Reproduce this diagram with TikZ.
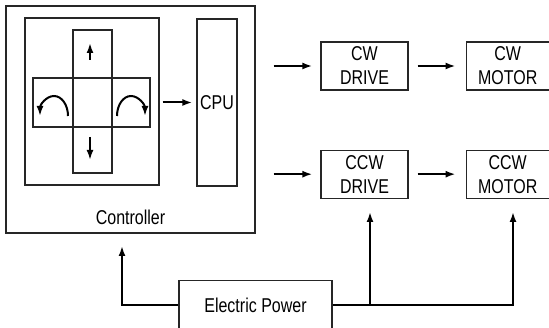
\documentclass[tikz,border=0pt]{standalone}
\usepackage{fontspec}
\setmainfont{Liberation Sans}[FakeStretch=0.8]
\usetikzlibrary{arrows.meta,positioning}

\begin{document}
\begin{tikzpicture}[x=1pt,y=1pt,>={Latex[length=10pt,width=7pt]},
  font=\fontsize{20}{24}\selectfont]
  \tikzstyle{box}=[draw=black!85,line width=1.2pt,inner sep=0pt,align=center,minimum height=48pt]
  \tikzstyle{flow}=[line width=2pt,->]
  \useasboundingbox (0,0) rectangle (549,328);
  % controller and its keypad
  \node[box,minimum width=249pt,minimum height=227pt] (ctrl) at (130.5,208.5) {};
  \node[box,minimum width=134pt,minimum height=167pt] (keypad) at (92,226.5) {};
  \node[box,minimum width=39pt,minimum height=143pt] (vbar) at (92.5,226.5) {};
  \node[box,minimum width=117pt,minimum height=49pt] (hbar) at (91.5,225.5) {};
  \node[box,minimum width=40pt,minimum height=167pt] (cpu) at (217,225.5) {CPU};
  \node (ctrllabel) at (130.5,110.5) {Controller};
  \draw[flow] (90,268) -- (90,285);
  \draw[flow] (90,191) -- (90,168);
  \draw[flow] (68,212) arc[start angle=0,end angle=180,x radius=14pt,y radius=20pt];
  \draw[flow] (117,212) arc[start angle=180,end angle=0,x radius=14pt,y radius=20pt];
  \draw[flow,shorten <=3pt,shorten >=4pt] (keypad.east |- cpu) -- (cpu.west);
  % drives and motors
  \node[box,minimum width=87pt] (cwdrive) at (364.5,262) {CW\\DRIVE};
  \node[box,minimum width=83pt,right=57pt of cwdrive] (cwmotor) {CW\\MOTOR};
  \node[box,minimum width=87pt,below=59pt of cwdrive] (ccwdrive) {CCW\\DRIVE};
  \node[box,minimum width=83pt,right=57pt of ccwdrive] (ccwmotor) {CCW\\MOTOR};
  \draw[flow,shorten <=18pt,shorten >=8pt] (ctrl.east |- cwdrive) -- (cwdrive.west);
  \draw[flow,shorten <=18pt,shorten >=8pt] (ctrl.east |- ccwdrive) -- (ccwdrive.west);
  \draw[flow,shorten <=9pt,shorten >=10pt] (cwdrive) -- (cwmotor);
  \draw[flow,shorten <=9pt,shorten >=10pt] (ccwdrive) -- (ccwmotor);
  % power supply
  \node[box,minimum width=153pt,minimum height=50pt] (power) at (255.5,22.5) {Electric Power};
  \coordinate (ctrlin) at (122,82);
  \coordinate (drvin) at (370,116);
  \coordinate (motin) at (513,116);
  \draw[flow] (power.west) -| (ctrlin);
  \draw[flow] (power.east) -| (motin);
  \draw[flow] (drvin |- power.east) -- (drvin);
\end{tikzpicture}
\end{document}
